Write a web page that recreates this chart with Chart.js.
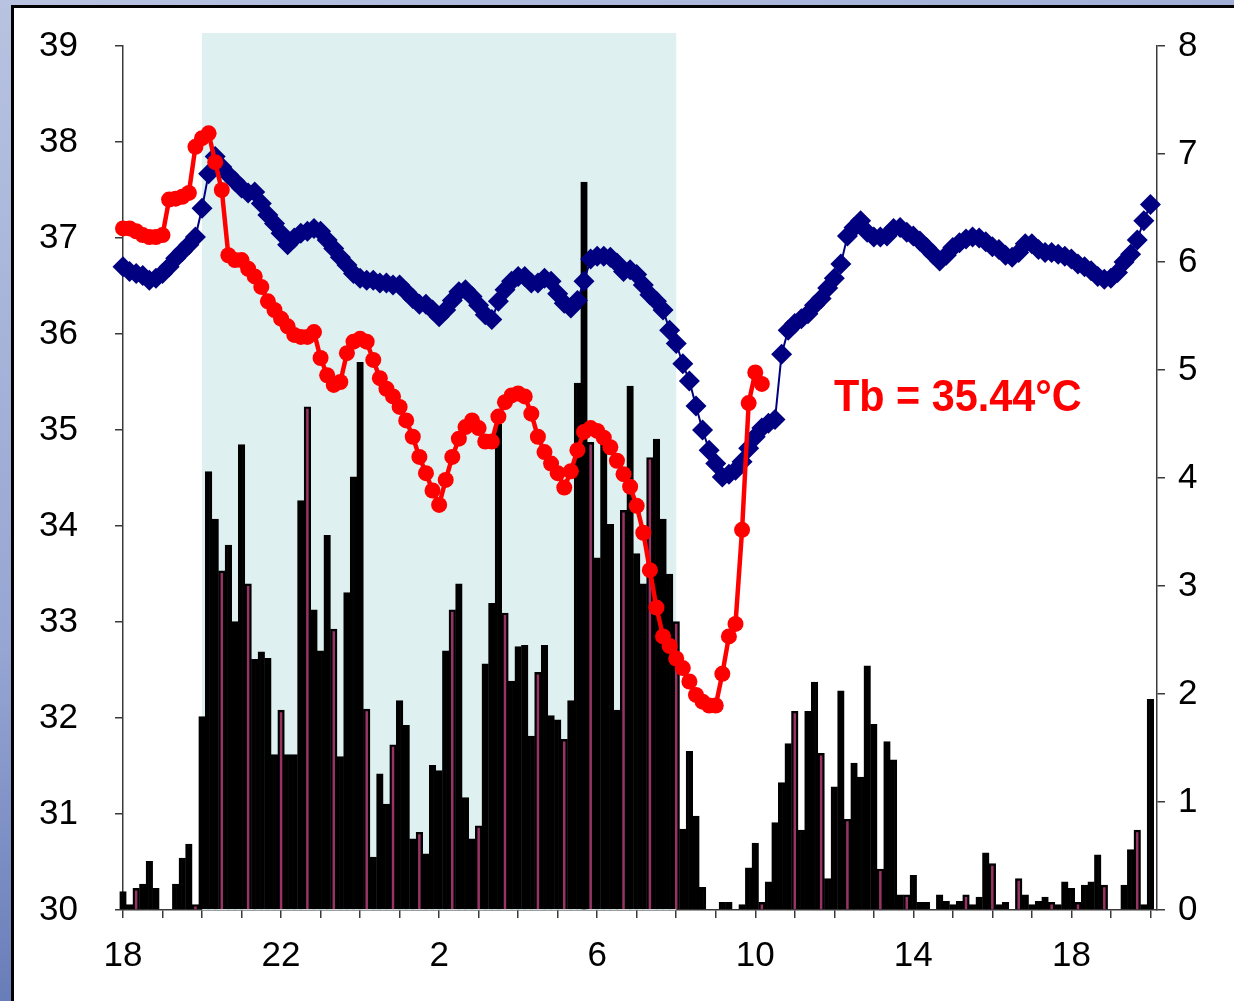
<!DOCTYPE html>
<html>
<head>
<meta charset="utf-8">
<script src="https://cdn.jsdelivr.net/npm/chart.js@4/dist/chart.umd.min.js"></script>
<style>
  html, body { margin: 0; padding: 0; }
  body {
    width: 1234px; height: 1001px; overflow: hidden; position: relative;
    background: linear-gradient(160deg, #b8c3e1 0%, #96a5d2 45%, #5d74b3 75%, #33508f 100%);
    font-family: "Liberation Sans", Arial, sans-serif;
  }
  #panel {
    position: absolute; left: 11px; top: 5px; width: 1220px; height: 993px;
    border-left: 3px solid #000; border-top: 3px solid #000; background: #fff;
  }
  #c { position: absolute; left: 0; top: 0; }
  #tb {
    position: absolute; left: 820px; top: 366px; white-space: nowrap;
    font: bold 44px "Liberation Sans", Arial, sans-serif; line-height: 44px;
    color: #ff0000; transform: scaleX(0.94); transform-origin: left top;
  }
</style>
</head>
<body>
<div id="panel">
  <canvas id="c" width="1220" height="993"></canvas>
  <div id="tb">Tb = 35.44°C</div>
</div>
<script>
// x positions: 10-minute steps since 18:00 (index k)
const xTickLabels = ['18', '22', '2', '6', '10', '14', '18'];
const leftTicks = [30, 31, 32, 33, 34, 35, 36, 37, 38, 39];
const rightTicks = [0, 1, 2, 3, 4, 5, 6, 7, 8];

// Activity (right axis), one bar per 10 min
const activity = [
  0.17, 0.05, 0.20, 0.24, 0.45, 0.20, 0, 0, 0.24, 0.48,
  0.61, 0.05, 1.79, 4.06, 3.62, 3.14, 3.38, 2.67, 4.31, 3.02,
  2.32, 2.39, 2.33, 1.44, 1.85, 1.44, 1.44, 3.79, 4.66, 2.78,
  2.40, 3.47, 2.60, 1.42, 2.94, 4.01, 5.07, 1.86, 0.49, 1.26,
  0.98, 1.53, 1.94, 1.71, 0.66, 0.72, 0.52, 1.34, 1.29, 2.40,
  2.78, 3.02, 1.04, 0.66, 0.78, 2.28, 2.84, 4.50, 2.75, 2.12,
  2.44, 2.45, 1.61, 2.20, 2.45, 1.80, 1.76, 1.58, 1.94, 4.88,
  6.74, 4.33, 3.26, 4.33, 3.57, 1.85, 3.70, 4.85, 3.30, 3.02,
  4.19, 4.36, 3.62, 3.11, 2.67, 0.75, 1.47, 0.87, 0.21, 0,
  0, 0.07, 0.07, 0, 0.05, 0.39, 0.62, 0.07, 0.26, 0.81,
  1.18, 1.54, 1.84, 0.74, 1.84, 2.11, 1.45, 0.29, 1.14, 2.03,
  0.84, 1.36, 1.23, 2.26, 1.72, 0.38, 1.56, 1.39, 0.14, 0.14,
  0.32, 0.07, 0.07, 0, 0.14, 0.08, 0.05, 0.08, 0.14, 0.05,
  0.12, 0.53, 0.43, 0.05, 0.07, 0, 0.29, 0.14, 0.05, 0.08,
  0.12, 0.07, 0.05, 0.26, 0.20, 0.07, 0.23, 0.26, 0.51, 0.23,
  0, 0, 0.23, 0.56, 0.74, 0.05, 1.95
];

// Blue series (left axis, °C)
const blueTemp = [
  36.70, 36.65, 36.63, 36.61, 36.56, 36.58, 36.63, 36.70, 36.79, 36.86,
  36.93, 37.01, 37.31, 37.67, 37.85, 37.74, 37.66, 37.59, 37.52, 37.47,
  37.48, 37.36, 37.24, 37.15, 37.05, 36.93, 37.00, 37.05, 37.07, 37.10,
  37.07, 36.98, 36.89, 36.80, 36.72, 36.63, 36.58, 36.56, 36.56, 36.53,
  36.53, 36.51, 36.51, 36.44, 36.37, 36.31, 36.31, 36.25, 36.18, 36.25,
  36.35, 36.44, 36.46, 36.39, 36.30, 36.20, 36.15, 36.34, 36.46, 36.55,
  36.60, 36.60, 36.53, 36.53, 36.58, 36.55, 36.42, 36.32, 36.27, 36.35,
  36.55, 36.78, 36.81, 36.81, 36.80, 36.74, 36.65, 36.67, 36.62, 36.51,
  36.41, 36.34, 36.25, 36.04, 35.90, 35.69, 35.51, 35.25, 35.00, 34.79,
  34.65, 34.51, 34.54, 34.58, 34.67, 34.81, 34.93, 35.02, 35.07, 35.11,
  35.79, 36.04, 36.11, 36.16, 36.21, 36.30, 36.37, 36.48, 36.58, 36.73,
  37.02, 37.11, 37.18, 37.06, 37.01, 37.01, 37.02, 37.10, 37.11, 37.06,
  37.02, 36.97, 36.90, 36.83, 36.76, 36.82, 36.90, 36.95, 36.99, 37.01,
  37.00, 36.96, 36.91, 36.88, 36.82, 36.80, 36.85, 36.94, 36.94, 36.88,
  36.85, 36.85, 36.83, 36.81, 36.78, 36.73, 36.70, 36.66, 36.60, 36.57,
  36.58, 36.64, 36.75, 36.83, 36.98, 37.18, 37.35
];

// Red series Tb (left axis, °C)
const redTemp = [
  37.10, 37.10, 37.07, 37.03, 37.01, 37.01, 37.03, 37.40, 37.41, 37.43,
  37.47, 37.95, 38.04, 38.09, 37.79, 37.50, 36.82, 36.77, 36.77, 36.68,
  36.60, 36.49, 36.34, 36.25, 36.16, 36.08, 35.99, 35.97, 35.97, 36.02,
  35.75, 35.57, 35.47, 35.50, 35.80, 35.92, 35.95, 35.92, 35.73, 35.54,
  35.43, 35.35, 35.24, 35.10, 34.93, 34.72, 34.55, 34.37, 34.22, 34.48,
  34.72, 34.91, 35.03, 35.10, 35.02, 34.88, 34.88, 35.14, 35.29, 35.36,
  35.38, 35.35, 35.17, 34.93, 34.77, 34.65, 34.55, 34.40, 34.57, 34.79,
  34.98, 35.02, 34.99, 34.92, 34.82, 34.68, 34.54, 34.41, 34.21, 33.93,
  33.54, 33.15, 32.85, 32.75, 32.62, 32.52, 32.38, 32.24, 32.17, 32.13,
  32.13, 32.46, 32.85, 32.98, 33.96, 35.28, 35.60, 35.48
];

const shadeStart = 12;  // 20:00
const shadeEnd = 84;    // 08:00

const toXY = arr => arr.map((v, i) => ({ x: i, y: v }));

// bars whose magenta fill shows through the black outline (rasterisation pattern)
const showFill = new Set();
for (let n = 0; n < 40; n++) showFill.add(Math.floor(13 * n / 3 + 2.5));

const shadePlugin = {
  id: 'shade',
  beforeDatasetsDraw(chart) {
    const { ctx, chartArea, scales } = chart;
    const x0 = scales.x.getPixelForValue(shadeStart);
    const x1 = scales.x.getPixelForValue(shadeEnd);
    ctx.save();
    ctx.fillStyle = '#dff0f0';
    ctx.fillRect(x0, chartArea.top - 13, x1 - x0, chartArea.bottom - chartArea.top + 13);
    ctx.restore();
  }
};

const tickFont = { family: '"Liberation Sans", Arial, sans-serif', size: 35 };
const axisColor = '#3a3a3a';
const noVPad = s => { s.paddingTop = 0; s.paddingBottom = 0; };

new Chart(document.getElementById('c'), {
  data: {
    datasets: [
      {
        type: 'line', label: 'Tb', data: toXY(redTemp), yAxisID: 'y', order: 1,
        borderColor: '#ff0000', backgroundColor: '#ff0000', borderWidth: 4.5,
        pointStyle: 'circle', pointRadius: 8, pointBorderWidth: 0,
        pointBackgroundColor: '#ff0000', tension: 0, clip: false
      },
      {
        type: 'line', label: 'Ta', data: toXY(blueTemp), yAxisID: 'y', order: 2,
        borderColor: '#000080', backgroundColor: '#000080', borderWidth: 2,
        pointStyle: 'rectRot', pointRadius: 10.5, pointBorderWidth: 0,
        pointBackgroundColor: '#000080', tension: 0, clip: false
      },
      {
        type: 'bar', label: 'Activity', data: toXY(activity), yAxisID: 'y2', order: 3,
        backgroundColor: c => (showFill.has(c.dataIndex) ? '#993366' : '#000000'),
        borderColor: '#000000', borderWidth: 2.4,
        barPercentage: 1, categoryPercentage: 1, clip: false
      }
    ]
  },
  options: {
    responsive: false, animation: false, devicePixelRatio: 1,
    layout: { padding: { top: 38, left: 0, right: 0, bottom: 0 } },
    plugins: { legend: { display: false }, tooltip: { enabled: false } },
    scales: {
      x: {
        type: 'linear', position: 'bottom', min: 0, max: 157, offset: false,
        afterFit(s) { s.height = 91; },
        afterBuildTicks(s) {
          const t = [];
          for (let v = 0; v <= 156; v += 6) t.push({ value: v });
          s.ticks = t;
        },
        ticks: {
          autoSkip: false, maxRotation: 0, includeBounds: false, padding: 17,
          color: '#000', font: tickFont,
          callback: v => (v % 24 === 0 ? xTickLabels[v / 24] : '')
        },
        grid: { offset: false, drawOnChartArea: false, drawTicks: true, tickLength: 8, color: axisColor, lineWidth: 1.5 },
        border: { display: true, color: axisColor, width: 1.5 }
      },
      y: {
        type: 'linear', position: 'left', min: 30, max: 39,
        afterFit(s) { s.width = 109; noVPad(s); },
        afterBuildTicks(s) { s.ticks = leftTicks.map(v => ({ value: v })); },
        ticks: { padding: 37, color: '#000', font: tickFont, includeBounds: false },
        grid: { drawOnChartArea: false, drawTicks: true, tickLength: 8, color: axisColor, lineWidth: 1.5 },
        border: { display: true, color: axisColor, width: 1.5 }
      },
      y2: {
        type: 'linear', position: 'right', min: 0, max: 8,
        afterFit(s) { s.width = 77; noVPad(s); },
        afterBuildTicks(s) { s.ticks = rightTicks.map(v => ({ value: v })); },
        ticks: { padding: 13, color: '#000', font: tickFont, includeBounds: false },
        grid: { drawOnChartArea: false, drawTicks: true, tickLength: 8, color: axisColor, lineWidth: 1.5 },
        border: { display: true, color: axisColor, width: 1.5 }
      }
    }
  },
  plugins: [shadePlugin]
});
</script>
</body>
</html>
